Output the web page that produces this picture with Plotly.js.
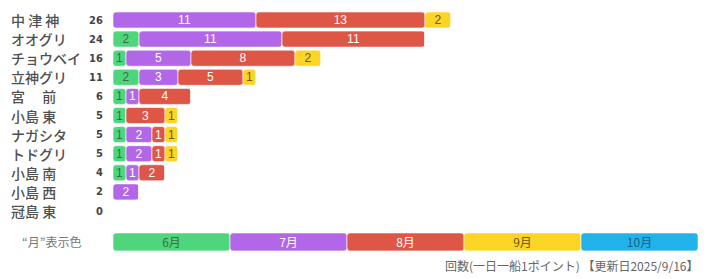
<!DOCTYPE html>
<html>
<head>
<meta charset="utf-8">
<script src="https://cdn.plot.ly/plotly-3.0.1.min.js"></script>
<style>html,body{margin:0;padding:0;background:#fff;}#chart{width:712px;height:279px;}</style>
</head>
<body>
<div id="chart"></div>
<script>
// ---- data ----
const names = ['中 津 神','オオグリ','チョウベイ','立神グリ','宮　 前','小島 東','ナガシタ','トドグリ','小島 南','小島 西','冠島 東'];
const jun = [0, 2, 1, 2, 1, 1, 1, 1, 1, 0, 0];
const jul = [11, 11, 5, 3, 1, 0, 2, 2, 1, 2, 0];
const aug = [13, 11, 8, 5, 4, 3, 1, 1, 2, 0, 0];
const sep = [2, 0, 2, 1, 0, 1, 1, 1, 0, 0, 0];
const oct = [0, 0, 0, 0, 0, 0, 0, 0, 0, 0, 0];
const monthLabels = ['6月','7月','8月','9月','10月'];
const legendLabel = '“月”表示色';
const footer = '回数(一日一船1ポイント) 【更新日2025/9/16】';

// ---- styling ----
const series = [jun, jul, aug, sep, oct];
const colors = ['#4dd67b', '#b267e8', '#dd5646', '#fcd426', '#22b2ea'];
const textColors = ['#3d6b4a', '#ffffff', '#ffffff', '#6b5a10', '#1d5f86'];
const legendSpan = 9; // each legend segment width in axis units
const rows = names.map((_, i) => i);
const legendRow = 11.62;

const traces = [];
const cum = names.map(() => 0);
series.forEach((vals, s) => {
  const base = cum.slice();
  vals.forEach((v, i) => { cum[i] += v; });
  traces.push({
    type: 'bar', orientation: 'h',
    y: rows, x: vals, base: base,
    width: 0.84,
    marker: {color: colors[s], cornerradius: 3, line: {color: '#ffffff', width: 0.6}},
    text: vals.map(v => v > 0 ? String(v) : ''),
    textposition: 'inside', insidetextanchor: 'middle', textangle: 0,
    constraintext: 'none',
    textfont: {family: 'Liberation Sans, Arial, sans-serif', size: 12, color: textColors[s]},
    hoverinfo: 'skip', showlegend: false, cliponaxis: false
  });
});
// legend strip
monthLabels.forEach((m, s) => {
  traces.push({
    type: 'bar', orientation: 'h',
    y: [legendRow], x: [legendSpan], base: [s * legendSpan],
    width: 0.94,
    marker: {color: colors[s], cornerradius: 3, line: {color: '#ffffff', width: 0.6}},
    text: [m], textposition: 'inside', insidetextanchor: 'middle', textangle: 0,
    constraintext: 'none',
    textfont: {family: 'Noto Sans CJK JP, sans-serif', size: 12, color: textColors[s]},
    hoverinfo: 'skip', showlegend: false
  });
});

const totals = names.map((_, i) => series.reduce((a, sr) => a + sr[i], 0));
const L = 113, W = 712, R = 12;
const plotW = W - L - R;
const px = p => (p - L) / plotW;

const annotations = [];
names.forEach((n, i) => {
  annotations.push({xref: 'paper', yref: 'y', x: px(9), y: i, xanchor: 'left', yanchor: 'middle',
    text: n, showarrow: false, font: {family: 'Noto Sans CJK JP, sans-serif', size: 14, color: '#505050', weight: 500}});
  annotations.push({xref: 'paper', yref: 'y', x: px(105), y: i, xanchor: 'right', yanchor: 'middle',
    text: '<b>' + totals[i] + '</b>', showarrow: false, font: {family: 'DejaVu Sans Condensed, DejaVu Sans, sans-serif', size: 11, color: '#444'}});
});
annotations.push({xref: 'paper', yref: 'y', x: px(20), y: legendRow, xanchor: 'left', yanchor: 'middle',
  text: legendLabel, showarrow: false, font: {family: 'Noto Sans CJK JP, sans-serif', size: 12, color: '#777'}});
annotations.push({xref: 'paper', yref: 'paper', x: px(701), y: (279 - 265) / 279, xanchor: 'right', yanchor: 'middle',
  text: footer, showarrow: false, font: {family: 'Noto Sans CJK JP, sans-serif', size: 12, color: '#666'}});

const layout = {
  width: W, height: 279,
  margin: {l: L, r: R, t: 0, b: 0, pad: 0},
  paper_bgcolor: '#ffffff', plot_bgcolor: '#ffffff',
  barmode: 'overlay',
  xaxis: {range: [0, plotW / 13], showgrid: false, zeroline: false, showticklabels: false, ticks: '', fixedrange: true},
  yaxis: {range: [259 / 19.1, -20 / 19.1], showgrid: false, zeroline: false, showticklabels: false, ticks: '', fixedrange: true},
  uniformtext: {mode: 'show', minsize: 11},
  annotations: annotations
};
Plotly.newPlot('chart', traces, layout, {staticPlot: true, displayModeBar: false});
</script>
</body>
</html>
